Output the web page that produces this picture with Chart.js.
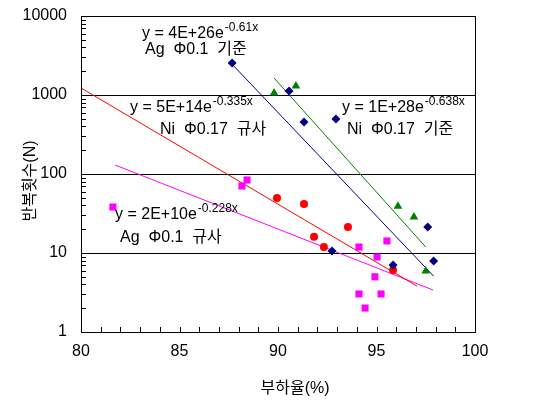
<!DOCTYPE html>
<html><head><meta charset="utf-8">
<script src="https://cdn.jsdelivr.net/npm/chart.js@4"></script>
<style>html,body{margin:0;padding:0;background:#fff}canvas{display:block}</style>
</head><body>
<canvas id="c" width="538" height="411"></canvas>
<script>
// ---- data ----
const xTicks = [80, 85, 90, 95, 100];
const yTicks = [1, 10, 100, 1000, 10000];

const agStdX = [87.67, 90.56, 91.32, 92.94, 92.74, 95.84, 97.6, 97.9];
const agStdY = [2540, 1125, 455, 497, 10.6, 7.05, 21.3, 7.9];
const niStdX = [89.8, 90.91, 96.09, 96.9, 97.5];
const niStdY = [1060, 1300, 39, 28.6, 5.9];
const niSandX = [89.95, 91.32, 93.55, 91.83, 92.33, 95.84];
const niSandY = [49.7, 41.7, 21.3, 16, 11.9, 6.1];
const agSandX = [81.62, 88.17, 88.43, 94.11, 95.03, 95.53, 94.92, 94.11, 95.23, 94.42];
const agSandY = [38.2, 70.5, 84, 11.9, 8.9, 14.2, 5.0, 3.03, 3.03, 2.01];

// trend line end points (exponential trends are straight on a log axis)
const agStdTrendX = [87.67, 97.9],  agStdTrendY = [2450, 5.1];
const niStdTrendX = [89.8, 97.5],   niStdTrendY = [1640, 11.9];
const niSandTrendX = [80, 97.06],   niSandTrendY = [1227, 3.8];
const agSandTrendX = [81.73, 97.87], agSandTrendY = [130, 3.4];

const xTitle = '부하율(%)';
const yTitle = '반복횟수(N)';
const labels = [
  {main: 'y = 4E+26e', sup: '-0.61x', x: 142, y: 34},
  {main: 'Ag  Φ0.1  기준', x: 145, y: 50},
  {main: 'y = 1E+28e', sup: '-0.638x', x: 342, y: 108},
  {main: 'Ni  Φ0.17  기준', x: 347, y: 130},
  {main: 'y = 5E+14e', sup: '-0.335x', x: 130, y: 108},
  {main: 'Ni  Φ0.17  규사', x: 160, y: 130},
  {main: 'y = 2E+10e', sup: '-0.228x', x: 115, y: 215},
  {main: 'Ag  Φ0.1  규사', x: 120, y: 238}
];

const pts = (xs, ys) => xs.map((x, i) => ({x: x, y: ys[i]}));
const FONT = '"Liberation Sans", "Noto Sans CJK KR", sans-serif';

const extras = {
  id: 'extras',
  afterDraw(chart) {
    const ctx = chart.ctx, a = chart.chartArea;
    const xs = chart.scales.x, ys = chart.scales.y;
    ctx.save();
    ctx.strokeStyle = '#000';
    ctx.lineWidth = 1;
    ctx.beginPath();
    for (let d = 1; d < 10000; d *= 10) {
      for (let m = 2; m <= 9; m++) {
        const py = Math.round(ys.getPixelForValue(d * m)) + 0.5;
        ctx.moveTo(a.left, py); ctx.lineTo(a.left + 5, py);
      }
    }
    for (let v = 81; v < 100; v++) {
      const px = Math.round(xs.getPixelForValue(v)) + 0.5;
      ctx.moveTo(px, a.bottom); ctx.lineTo(px, a.bottom - 5);
    }
    ctx.stroke();
    ctx.strokeRect(Math.round(a.left) + 0.5, Math.round(a.top) + 0.5,
                   Math.round(a.right - a.left), Math.round(a.bottom - a.top));
    ctx.fillStyle = '#000';
    ctx.textBaseline = 'middle';
    ctx.textAlign = 'left';
    labels.forEach(l => {
      ctx.font = '16px ' + FONT;
      ctx.fillText(l.main, l.x, l.y);
      if (l.sup) {
        const w = ctx.measureText(l.main).width;
        ctx.font = '12px ' + FONT;
        ctx.fillText(l.sup, l.x + w + 1, l.y - 6);
      }
    });
    ctx.font = '16px ' + FONT;
    ctx.textAlign = 'center';
    ctx.fillText(xTitle, 295, 389);
    ctx.translate(31, 181);
    ctx.rotate(-Math.PI / 2);
    ctx.fillText(yTitle, 0, 0);
    ctx.restore();
  }
};

new Chart(document.getElementById('c'), {
  type: 'scatter',
  data: {
    datasets: [
      {data: pts(agStdX, agStdY), pointStyle: 'rectRot', pointRadius: 4.5,
       backgroundColor: '#000080', borderColor: '#000080', borderWidth: 0, showLine: false},
      {data: pts(niStdX, niStdY), pointStyle: 'triangle', pointRadius: 5,
       backgroundColor: '#008000', borderColor: '#008000', borderWidth: 0, showLine: false},
      {data: pts(niSandX, niSandY), pointStyle: 'circle', pointRadius: 4,
       backgroundColor: '#ff0000', borderColor: '#ff0000', borderWidth: 0, showLine: false},
      {data: pts(agSandX, agSandY), pointStyle: 'rect', pointRadius: 5,
       backgroundColor: '#ff00ff', borderColor: '#ff00ff', borderWidth: 0, showLine: false},
      {data: pts(agStdTrendX, agStdTrendY), showLine: true, pointRadius: 0,
       borderColor: '#000080', borderWidth: 1},
      {data: pts(niStdTrendX, niStdTrendY), showLine: true, pointRadius: 0,
       borderColor: '#008000', borderWidth: 1},
      {data: pts(niSandTrendX, niSandTrendY), showLine: true, pointRadius: 0,
       borderColor: '#ff0000', borderWidth: 1},
      {data: pts(agSandTrendX, agSandTrendY), showLine: true, pointRadius: 0,
       borderColor: '#ff00ff', borderWidth: 1}
    ]
  },
  options: {
    responsive: false,
    animation: false,
    devicePixelRatio: 1,
    layout: {padding: {left: 0, right: 63, top: 16, bottom: 0}},
    plugins: {legend: {display: false}, tooltip: {enabled: false}},
    scales: {
      x: {
        type: 'linear', min: 80, max: 100,
        afterFit: s => { s.height = 79; s.paddingLeft = 0; s.paddingRight = 0; },
        afterBuildTicks: s => { s.ticks = xTicks.map(v => ({value: v})); },
        grid: {display: false, drawTicks: false},
        border: {display: false},
        ticks: {color: '#000', padding: 10, font: {size: 16, family: FONT},
                maxRotation: 0, autoSkip: false, callback: v => String(v)}
      },
      y: {
        type: 'logarithmic', min: 1, max: 10000,
        afterFit: s => { s.width = 81; s.paddingTop = 0; s.paddingBottom = 0; },
        afterBuildTicks: s => { s.ticks = yTicks.map(v => ({value: v})); },
        grid: {color: '#000', lineWidth: 1, drawTicks: false},
        border: {display: false},
        ticks: {color: '#000', padding: 14, font: {size: 16, family: FONT},
                autoSkip: false, callback: v => String(v)}
      }
    }
  },
  plugins: [extras]
});
</script>
</body></html>
